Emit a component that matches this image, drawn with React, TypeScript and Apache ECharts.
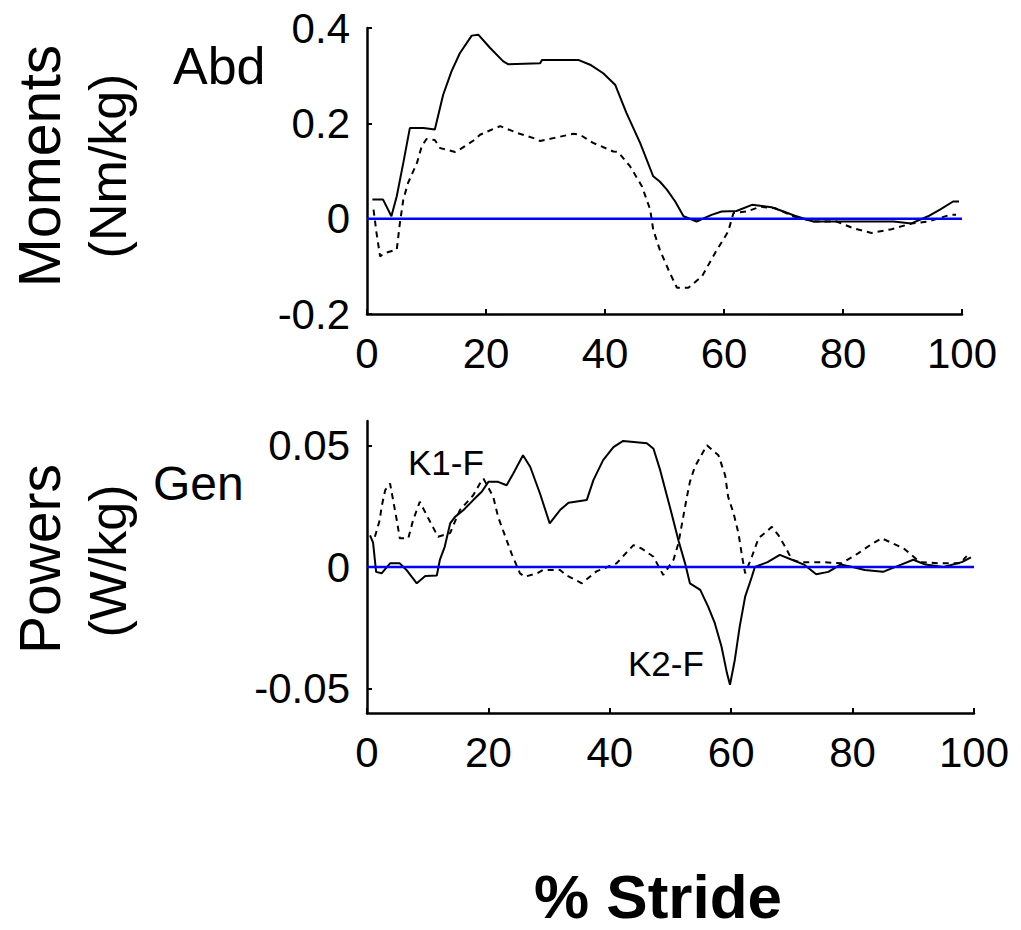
import React, { useEffect, useRef } from "react";
import * as echarts from "echarts";

const xTicks = [0, 20, 40, 60, 80, 100];
const momentsTicks = [-0.2, 0, 0.2, 0.4];
const powersTicks = [-0.05, 0, 0.05];
const zeroLine = [[0, 0], [100, 0]];

const momentsSolid = [
  [0.9, 0.04], [2.7, 0.04], [4.1, 0.005], [5.0, 0.047], [6.1, 0.117], [7.2, 0.19], [9.5, 0.19],
  [11.4, 0.187], [12.8, 0.26], [14.2, 0.309], [15.6, 0.347], [17.6, 0.384], [18.7, 0.386],
  [20.7, 0.358], [22.9, 0.33], [23.7, 0.324], [29.1, 0.326], [29.4, 0.333], [35.5, 0.333],
  [37.5, 0.323], [39.7, 0.305], [41.7, 0.281], [43.6, 0.222], [45.9, 0.159], [48.1, 0.089],
  [49.2, 0.078], [50.4, 0.061], [51.8, 0.036], [53.2, 0.005], [55.4, -0.006], [57.9, 0.008],
  [59.6, 0.015], [62.1, 0.016], [64.7, 0.029], [68.0, 0.024], [70.0, 0.015], [71.9, 0.006],
  [75.0, -0.006], [82.9, -0.006], [88.5, -0.006], [91.5, -0.01], [94.3, 0.005], [96.3, 0.019],
  [98.5, 0.036], [99.5, 0.036],
];

const momentsDashed = [
  [1.1, 0.019], [1.6, -0.03], [2.2, -0.079], [3.0, -0.072], [5.0, -0.065], [5.5, -0.012],
  [6.1, 0.04], [6.9, 0.075], [8.4, 0.117], [9.2, 0.152], [10.0, 0.167], [11.4, 0.165],
  [12.3, 0.148], [14.8, 0.14], [15.6, 0.145], [17.9, 0.164], [19.0, 0.176], [21.2, 0.188],
  [22.4, 0.194], [25.2, 0.18], [28.0, 0.169], [29.1, 0.163], [31.3, 0.169], [34.7, 0.178],
  [35.8, 0.176], [38.0, 0.159], [41.4, 0.141], [42.2, 0.14], [44.2, 0.11], [46.2, 0.068],
  [47.6, 0.019], [48.1, -0.023], [49.2, -0.065], [50.9, -0.114], [52.1, -0.145], [54.0, -0.145],
  [56.3, -0.121], [58.5, -0.072], [60.7, -0.027], [61.6, 0.012], [63.8, 0.015], [66.1, 0.025],
  [68.6, 0.022], [71.6, 0.005], [75.0, -0.006], [78.9, -0.006], [81.7, -0.02], [84.8, -0.03],
  [88.2, -0.022], [91.5, -0.01], [94.3, -0.006], [98.0, 0.008], [99.0, 0.008],
];

const powersSolid = [
  [0.5, 0.013], [1.0, 0.01], [1.5, -0.002], [2.4, -0.0026], [3.8, 0.0015], [5.4, 0.0015],
  [6.5, -0.0012], [8.2, -0.0067], [9.6, -0.0037], [11.5, -0.0035], [12.0, 0.0029], [12.8, 0.0083],
  [13.7, 0.0179], [14.5, 0.0206], [15.9, 0.0234], [17.5, 0.0275], [18.9, 0.0309], [20.0, 0.035],
  [21.6, 0.035], [23.0, 0.0336], [24.1, 0.0384], [25.7, 0.0459], [26.9, 0.0411], [28.5, 0.0302],
  [30.1, 0.0179], [31.8, 0.0234], [33.2, 0.0264], [36.2, 0.0275], [37.3, 0.0357], [38.9, 0.0439],
  [40.6, 0.0493], [42.2, 0.0518], [46.1, 0.0509], [47.2, 0.0486], [48.3, 0.0398], [49.9, 0.0247],
  [51.3, 0.011], [52.4, 0.0015], [53.2, -0.0067], [54.9, -0.0094], [56.2, -0.0163], [57.3, -0.0231],
  [58.4, -0.0327], [59.3, -0.0436], [59.8, -0.0484], [60.6, -0.0381], [61.4, -0.0245],
  [62.3, -0.0122], [63.4, -0.004], [63.9, 0.0], [66, 0.002], [68, 0.005], [70, 0.003], [72, 0.001],
  [74, -0.003], [76, -0.002], [78, 0.001], [80, 0.0], [82, -0.0012], [85, -0.002], [88, 0.001],
  [90, 0.003], [92, 0.001], [95, 0.0], [98, 0.002], [99.5, 0.004],
];

const powersDashed = [
  [1.3, 0.0124], [2.1, 0.0193], [2.4, 0.0247], [3.0, 0.0316], [3.8, 0.0343], [4.3, 0.0275],
  [4.9, 0.0193], [5.4, 0.0118], [6.8, 0.0118], [7.6, 0.0193], [8.7, 0.0268], [10.1, 0.02],
  [11.7, 0.0124], [13.7, 0.014], [15.3, 0.0234], [17.5, 0.0295], [18.6, 0.0343], [19.2, 0.0363],
  [20.8, 0.0288], [21.6, 0.0206], [22.7, 0.0131], [23.8, 0.0056], [25.2, -0.0026], [26.0, -0.004],
  [28.0, -0.0026], [29.0, -0.0012], [31.8, -0.0012], [32.9, -0.0035], [35.4, -0.0067],
  [37.8, -0.0018], [41.1, 0.0015], [43.9, 0.009], [45.3, 0.0075], [47.2, 0.0042], [48.8, -0.0033],
  [50.5, 0.003], [51.3, 0.0097], [52.1, 0.0206], [52.7, 0.0288], [53.2, 0.035], [54.0, 0.0411],
  [54.9, 0.0452], [56.0, 0.05], [57.9, 0.0459], [59.0, 0.0377], [59.5, 0.0288], [60.4, 0.022],
  [61.2, 0.0138], [61.8, 0.0042], [62.3, -0.0026], [63.4, 0.0042], [64.5, 0.0118], [66.7, 0.0165],
  [67.8, 0.013], [68.9, 0.0083], [70.0, 0.003], [71.3, 0.002], [74.9, 0.002], [78.2, 0.0015],
  [80.9, 0.0056], [82.9, 0.009], [84.8, 0.0118], [88.4, 0.0077], [91.1, 0.002], [94.4, 0.0015],
  [97.7, 0.0015], [98.8, 0.0045],
];

const FONT = "'Liberation Sans', Arial, Helvetica, sans-serif";

export default function App() {
  const ref = useRef<HTMLDivElement>(null);
  useEffect(() => {
    if (!ref.current) return;
    const chart = echarts.init(ref.current, null, { renderer: "svg" });
    const axisLine = { show: true, onZero: false, lineStyle: { color: "#000", width: 2.5 } };
    const axisLabel = { color: "#000", fontSize: 42, fontFamily: FONT };
    const mkX = (gi: number) => ({
      type: "value",
      gridIndex: gi,
      min: 0,
      max: 100,
      interval: 20,
      axisLine,
      axisTick: { show: true, inside: true, length: 5, lineStyle: { color: "#000", width: 2 }, customValues: xTicks },
      axisLabel: { ...axisLabel, margin: 18, customValues: xTicks },
      splitLine: { show: false },
    });
    const lineSeries = (data: number[][], gi: number, dashed: boolean) => ({
      type: "line",
      xAxisIndex: gi,
      yAxisIndex: gi,
      data,
      showSymbol: false,
      symbol: "none",
      lineStyle: { color: "#000", width: 2, type: dashed ? [6, 5] : "solid" },
      z: 2,
    });
    const text = (t: string, x: number, y: number, size: number, extra: any = {}) => ({
      type: "text",
      x,
      y,
      rotation: extra.rotation || 0,
      style: {
        text: t,
        fill: "#000",
        fontSize: size,
        fontFamily: FONT,
        fontWeight: extra.bold ? "bold" : "normal",
        align: extra.align || "left",
        verticalAlign: "middle",
      },
    });
    chart.setOption({
      animation: false,
      grid: [
        { left: 367, top: 28, width: 595, height: 286 },
        { left: 367, top: 421, width: 607, height: 292 },
      ],
      xAxis: [mkX(0), mkX(1)],
      yAxis: [
        {
          type: "value",
          gridIndex: 0,
          min: -0.2,
          max: 0.4,
          interval: 0.2,
          axisLine,
          axisTick: { show: true, inside: true, length: 5, lineStyle: { color: "#000", width: 2 }, customValues: momentsTicks },
          axisLabel: { ...axisLabel, margin: 17, customValues: momentsTicks },
          splitLine: { show: false },
        },
        {
          type: "value",
          gridIndex: 1,
          min: -0.06,
          max: 0.06,
          axisLine,
          axisTick: { show: true, inside: true, length: 5, lineStyle: { color: "#000", width: 2 }, customValues: powersTicks },
          axisLabel: { ...axisLabel, margin: 17, customValues: powersTicks, formatter: (v: number) => String(Math.round(v * 100) / 100) },
          splitLine: { show: false },
        },
      ],
      series: [
        lineSeries(momentsSolid, 0, false),
        lineSeries(momentsDashed, 0, true),
        lineSeries(powersSolid, 1, false),
        lineSeries(powersDashed, 1, true),
        { type: "line", xAxisIndex: 0, yAxisIndex: 0, data: zeroLine, symbol: "none", lineStyle: { color: "#0000ff", width: 2.5 }, z: 3 },
        { type: "line", xAxisIndex: 1, yAxisIndex: 1, data: zeroLine, symbol: "none", lineStyle: { color: "#0000ff", width: 2.5 }, z: 3 },
      ],
      graphic: [
        text("Moments", 40, 166, 59, { rotation: Math.PI / 2, align: "center" }),
        text("(Nm/kg)", 108, 166, 52, { rotation: Math.PI / 2, align: "center" }),
        text("Powers", 40, 559, 57, { rotation: Math.PI / 2, align: "center" }),
        text("(W/kg)", 108, 561, 52, { rotation: Math.PI / 2, align: "center" }),
        text("Abd", 173, 66, 52),
        text("Gen", 153, 483, 48),
        text("K1-F", 408, 462, 35),
        text("K2-F", 628, 663, 35),
        text("% Stride", 658, 896, 62, { bold: true, align: "center" }),
      ],
    });
    return () => chart.dispose();
  }, []);
  return <div ref={ref} style={{ position: "absolute", left: 0, top: 0, width: 1021, height: 930 }} />;
}
